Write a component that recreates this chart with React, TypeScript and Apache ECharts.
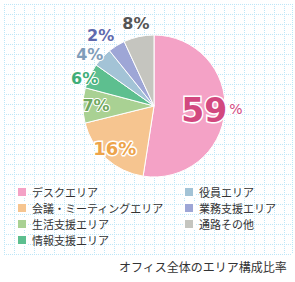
import { useEffect, useRef } from 'react';
import * as echarts from 'echarts';

const categories = [
  'デスクエリア',
  '会議・ミーティングエリア',
  '生活支援エリア',
  '情報支援エリア',
  '役員エリア',
  '業務支援エリア',
  '通路その他',
];
// printed percentages
const percentLabels = [59, 16, 7, 6, 4, 2, 8];
// sector shares as drawn in the picture
const sliceShares = [52.5, 18.7, 8.0, 5.7, 4.4, 3.9, 6.9];
const sliceColors = ['#f4a2c6', '#f6c590', '#a9d193', '#5dbf8f', '#a3c3d6', '#9ea6d6', '#c5c5bf'];
const labelColors = ['#d2487f', '#eda44a', '#6fa85e', '#3fae79', '#7f9dba', '#5f6aae', '#555555'];
const innerLabelIdx = [0, 1, 2];
const outerLabelIdx = [6];
const leftLegend = categories.slice(0, 4);
const rightLegend = categories.slice(4);
const captionText = 'オフィス全体のエリア構成比率';

export default function App() {
  const ref = useRef<HTMLDivElement>(null);
  useEffect(() => {
    if (!ref.current) return;
    const chart = echarts.init(ref.current, null, { renderer: 'svg' });
    const center = [154, 106];
    const R = 71;
    const labelFor = (i: number, show: boolean, position: string) => {
      if (!show) return { show: false };
      if (i === 0) {
        return {
          show: true,
          position,
          formatter: '{b|' + percentLabels[i] + '}{p|%}',
          rich: {
            b: {
              fontFamily: 'DejaVu Sans',
              fontWeight: 'bold',
              fontSize: 33,
              color: labelColors[i],
              textBorderColor: '#ffffff',
              textBorderWidth: 3,
            },
            p: {
              fontFamily: 'DejaVu Sans',
              fontSize: 14,
              color: labelColors[i],
              textBorderColor: '#ffffff',
              textBorderWidth: 2,
              padding: [0, 0, 3, 2],
            },
          },
        };
      }
      return {
        show: true,
        position,
        formatter: percentLabels[i] + '%',
        fontFamily: 'DejaVu Sans',
        fontWeight: 'bold',
        fontSize: i === 1 ? 18 : 16,
        color: labelColors[i],
        textBorderColor: '#ffffff',
        textBorderWidth: i === 1 ? 3 : 2,
        distanceToLabelLine: -4,
      };
    };
    const overlay = (radius: any, idx: number[], position = 'inside') => ({
      type: 'pie',
      silent: true,
      center,
      radius,
      startAngle: 90,
      avoidLabelOverlap: false,
      labelLayout: { hideOverlap: false },
      emphasis: { disabled: true },
      labelLine: { show: false, length: 0, length2: 0 },
      itemStyle: { color: 'rgba(0,0,0,0)', borderWidth: 0 },
      z: 5,
      data: categories.map((name, i) => ({
        name,
        value: sliceShares[i],
        itemStyle: { color: 'rgba(0,0,0,0)' },
        label: labelFor(i, idx.includes(i), position),
      })),
    });
    const legendBase = {
      orient: 'vertical',
      top: 186,
      itemWidth: 10,
      itemHeight: 10,
      itemGap: 4,
      icon: 'rect',
      selectedMode: false,
      padding: 0,
      textStyle: { fontFamily: 'Noto Sans CJK JP', fontSize: 11, color: '#333333', lineHeight: 12 },
    };
    const gridLine = { show: true, lineStyle: { color: '#bde6f7', type: 'dotted', width: 1 } };
    chart.setOption({
      animation: false,
      backgroundColor: '#ffffff',
      title: {
        text: captionText,
        right: 8,
        top: 260,
        padding: 0,
        textStyle: { fontFamily: 'Noto Sans CJK JP', fontSize: 12, fontWeight: 'normal', color: '#333333' },
      },
      grid: { left: 4, top: 4, width: 288, height: 250 },
      xAxis: {
        type: 'value',
        min: 0,
        max: 288,
        interval: 10,
        axisLabel: { show: false },
        axisTick: { show: false },
        axisLine: { show: false },
        splitLine: gridLine,
      },
      yAxis: {
        type: 'value',
        min: 0,
        max: 250,
        interval: 10,
        inverse: true,
        axisLabel: { show: false },
        axisTick: { show: false },
        axisLine: { show: false },
        splitLine: gridLine,
      },
      legend: [
        { ...legendBase, left: 16, data: leftLegend },
        { ...legendBase, left: 183, data: rightLegend },
      ],
      series: [
        {
          type: 'pie',
          center,
          radius: R,
          startAngle: 90,
          silent: true,
          label: { show: false },
          labelLine: { show: false },
          itemStyle: { borderColor: '#ffffff', borderWidth: 1 },
          data: categories.map((name, i) => ({
            name,
            value: sliceShares[i],
            itemStyle: { color: sliceColors[i] },
          })),
        },
        overlay([40, 70], innerLabelIdx),
        overlay([64, 99], outerLabelIdx),
        overlay(66, [3], 'outside'),
        overlay(75, [4], 'outside'),
        overlay(83, [5], 'outside'),
      ],
    } as any);
    return () => chart.dispose();
  }, []);
  return <div ref={ref} style={{ width: 295, height: 282, position: 'absolute', left: 0, top: 0 }} />;
}
